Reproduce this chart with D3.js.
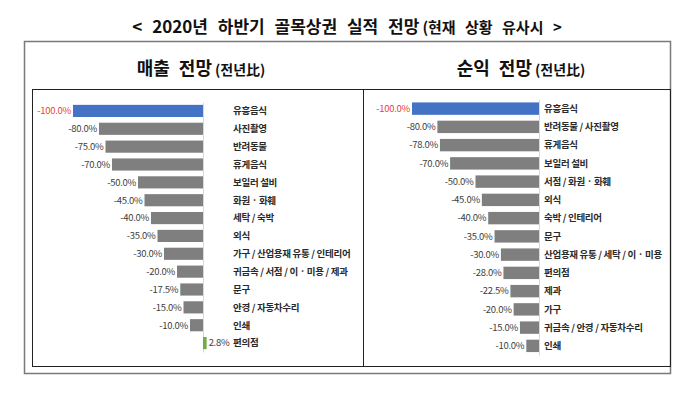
<!DOCTYPE html>
<html>
<head>
<meta charset="utf-8">
<script src="https://cdn.jsdelivr.net/npm/d3@7"></script>
<style>
  body { margin: 0; background: #fff; }
  svg { display: block; font-family: "Noto Sans CJK KR", "Noto Sans", sans-serif; }
</style>
</head>
<body>
<svg id="chart" width="700" height="396"></svg>
<script>
// 매출 전망 (left panel)
const salesCats = ['유흥음식', '사진촬영', '반려동물', '휴게음식', '보일러 설비', '화원 · 화훼', '세탁 / 숙박', '외식',
  '가구 / 산업용재 유통 / 인테리어', '귀금속 / 서점 / 이 · 미용 / 제과', '문구', '안경 / 자동차수리', '인쇄', '편의점'];
const salesVals = [-100, -80, -75, -70, -50, -45, -40, -35, -30, -20, -17.5, -15, -10, 2.8];

// 순익 전망 (right panel)
const profitCats = ['유흥음식', '반려동물 / 사진촬영', '휴게음식', '보일러 설비', '서점 / 화원 · 화훼', '외식', '숙박 / 인테리어', '문구',
  '산업용재 유통 / 세탁 / 이 · 미용', '편의점', '제과', '가구', '귀금속 / 안경 / 자동차수리', '인쇄'];
const profitVals = [-100, -80, -78, -70, -50, -45, -40, -35, -30, -28, -22.5, -20, -15, -10];

const svg = d3.select('#chart');
const fmt = v => d3.format('.1f')(v).replace('\u2212', '-') + '%';

// title
const title = svg.append('text')
  .attr('x', 347).attr('y', 33)
  .attr('text-anchor', 'middle')
  .attr('font-weight', 'bold')
  .attr('word-spacing', 6)
  .attr('fill', '#111');
title.append('tspan').attr('font-size', 17).text('< 2020년 하반기 골목상권 실적 전망');
title.append('tspan').attr('font-size', 15).attr('dx', 3).text('(현재 상황 유사시 >');

// frames
svg.append('rect')
  .attr('x', 24.5).attr('y', 41.5).attr('width', 646).attr('height', 332)
  .attr('fill', 'none').attr('stroke', '#7a7a7a').attr('stroke-width', 1.5);
svg.append('rect')
  .attr('x', 32.5).attr('y', 89.5).attr('width', 331).attr('height', 277)
  .attr('fill', 'none').attr('stroke', '#222');
svg.append('rect')
  .attr('x', 363.5).attr('y', 89.5).attr('width', 307).attr('height', 277)
  .attr('fill', 'none').attr('stroke', '#222');

function panelTitle(cx, main) {
  const t = svg.append('text')
    .attr('x', cx).attr('y', 75)
    .attr('text-anchor', 'middle')
    .attr('font-weight', 'bold')
    .attr('fill', '#111');
  t.append('tspan').attr('font-size', 18).attr('word-spacing', 5).text(main);
  t.append('tspan').attr('font-size', 14).attr('dx', 3).text('(전년比)');
}
panelTitle(201, '매출 전망');
panelTitle(521, '순익 전망');

function drawPanel(cats, vals, x0, xNeg, yTop, yBottom, labelGap) {
  const x = d3.scaleLinear().domain([-100, 0]).range([xNeg, x0]);
  const y = d3.scaleBand().domain(cats).range([yTop, yBottom]).padding(0);
  const barH = y.bandwidth() * 0.68;
  const data = cats.map((c, i) => ({ cat: c, val: vals[i] }));
  const g = svg.append('g');

  // zero axis line
  g.append('g')
    .attr('transform', `translate(${x0},0)`)
    .call(d3.axisLeft(y).tickSize(0).tickFormat(''))
    .call(a => a.select('.domain').attr('stroke', '#d9d9d9'));

  g.selectAll('rect.bar')
    .data(data)
    .enter()
    .append('rect')
    .attr('class', 'bar')
    .attr('x', d => x(Math.min(0, d.val)))
    .attr('width', d => Math.abs(x(d.val) - x(0)))
    .attr('y', d => y(d.cat) + (y.bandwidth() - barH) / 2)
    .attr('height', barH)
    .attr('fill', d => d.val <= -100 ? '#4472c4' : d.val > 0 ? '#70ad47' : '#7f7f7f');

  // value labels
  g.selectAll('text.val')
    .data(data)
    .enter()
    .append('text')
    .attr('class', 'val')
    .attr('x', d => d.val < 0 ? x(d.val) - 2 : x(d.val) + 2)
    .attr('y', d => y(d.cat) + y.bandwidth() / 2)
    .attr('dy', '0.35em')
    .attr('text-anchor', d => d.val < 0 ? 'end' : 'start')
    .attr('font-size', 9.5)
    .attr('letter-spacing', -0.3)
    .attr('fill', d => d.val <= -100 ? '#e8403a' : '#404040')
    .text(d => fmt(d.val));

  // category labels
  g.selectAll('text.cat')
    .data(data)
    .enter()
    .append('text')
    .attr('class', 'cat')
    .attr('x', x0 + labelGap)
    .attr('y', d => y(d.cat) + y.bandwidth() / 2)
    .attr('dy', '0.35em')
    .attr('font-size', 9.5)
    .attr('letter-spacing', -0.3)
    .attr('font-weight', 'bold')
    .attr('fill', '#2a2a2a')
    .text(d => d.cat);
}

drawPanel(salesCats, salesVals, 203, 73, 102, 352, 30);
drawPanel(profitCats, profitVals, 539, 412, 99.5, 355, 5);
</script>
</body>
</html>
